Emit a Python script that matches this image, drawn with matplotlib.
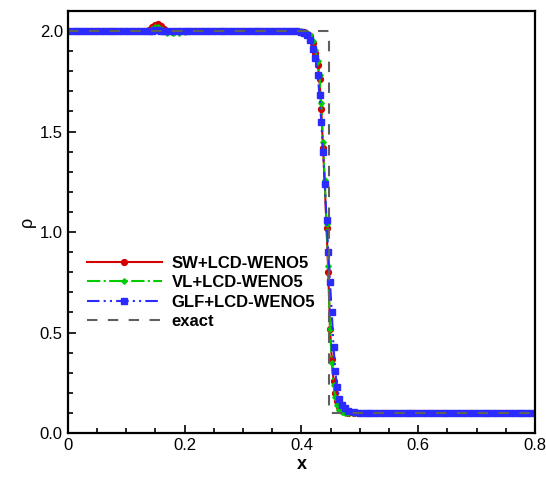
"""
Density profile near the shock: three flux schemes with LCD-WENO5 vs the exact solution.
"""
import matplotlib
matplotlib.use("Agg")
import matplotlib.pyplot as plt
from matplotlib.ticker import MultipleLocator

plt.rcParams['font.family'] = ['Liberation Sans', 'DejaVu Sans']

# grid shared by the three numerical solutions
x_num = [0.00, 0.01, 0.02, 0.03, 0.04, 0.05, 0.06, 0.07, 0.08, 0.09, 0.10, 0.11, 0.12, 0.13,
         0.14, 0.145, 0.15, 0.155, 0.16, 0.165, 0.17,
         0.18, 0.19, 0.20, 0.21, 0.22, 0.23, 0.24, 0.25, 0.26, 0.27, 0.28, 0.29, 0.30,
         0.31, 0.32, 0.33, 0.34, 0.35, 0.36, 0.37, 0.38, 0.39,
         0.400, 0.405, 0.410, 0.415, 0.420, 0.424, 0.428, 0.431, 0.434, 0.437, 0.440,
         0.443, 0.446, 0.449, 0.452, 0.455, 0.458, 0.461, 0.465, 0.470, 0.475, 0.480,
         0.49, 0.50, 0.51, 0.52, 0.53, 0.54, 0.55, 0.56, 0.57, 0.58, 0.59, 0.60, 0.61,
         0.62, 0.63, 0.64, 0.65, 0.66, 0.67, 0.68, 0.69, 0.70, 0.71, 0.72, 0.73, 0.74,
         0.75, 0.76, 0.77, 0.78, 0.79, 0.80]

rho_sw = [2.0, 2.0, 2.0, 2.0, 2.0, 2.0, 2.0, 2.0, 2.0, 2.0, 2.0, 2.0, 2.0, 2.0,
          2.005, 2.018, 2.032, 2.036, 2.026, 2.010, 2.0,
          1.998, 1.999, 2.0, 2.0, 2.0, 2.0, 2.0, 2.0, 2.0, 2.0, 2.0, 2.0, 2.0,
          2.0, 2.0, 2.0, 2.0, 2.0, 2.0, 2.0, 2.0, 2.0,
          1.998, 1.995, 1.988, 1.975, 1.94, 1.89, 1.83, 1.76, 1.61, 1.42, 1.24,
          1.02, 0.80, 0.52, 0.37, 0.26, 0.20, 0.16, 0.13, 0.115, 0.105, 0.101,
          0.1, 0.1, 0.1, 0.1, 0.1, 0.1, 0.1, 0.1, 0.1, 0.1, 0.1, 0.1, 0.1,
          0.1, 0.1, 0.1, 0.1, 0.1, 0.1, 0.1, 0.1, 0.1, 0.1, 0.1, 0.1, 0.1,
          0.1, 0.1, 0.1, 0.1, 0.1, 0.1]

rho_vl = [2.0, 2.0, 2.0, 2.0, 2.0, 2.0, 2.0, 2.0, 2.0, 2.0, 2.0, 2.0, 2.0, 2.0,
          2.002, 2.010, 2.020, 2.022, 2.012, 2.0, 1.992,
          1.989, 1.991, 1.996, 1.999, 2.0, 2.0, 2.0, 2.0, 2.0, 2.0, 2.0, 2.0, 2.0,
          2.0, 2.0, 2.0, 2.0, 2.0, 2.0, 2.0, 2.0, 2.0,
          1.999, 1.997, 1.99, 1.98, 1.95, 1.905, 1.85, 1.78, 1.64, 1.45, 1.26,
          1.04, 0.83, 0.52, 0.35, 0.24, 0.18, 0.14, 0.115, 0.104, 0.1, 0.1,
          0.1, 0.1, 0.1, 0.1, 0.1, 0.1, 0.1, 0.1, 0.1, 0.1, 0.1, 0.1, 0.1,
          0.1, 0.1, 0.1, 0.1, 0.1, 0.1, 0.1, 0.1, 0.1, 0.1, 0.1, 0.1, 0.1,
          0.1, 0.1, 0.1, 0.1, 0.1, 0.1]

rho_glf = [2.0, 2.0, 2.0, 2.0, 2.0, 2.0, 2.0, 2.0, 2.0, 2.0, 2.0, 2.0, 2.0, 2.0,
           2.0, 2.002, 2.004, 2.005, 2.003, 2.001, 2.0,
           2.0, 2.0, 2.0, 2.0, 2.0, 2.0, 2.0, 2.0, 2.0, 2.0, 2.0, 2.0, 2.0,
           2.0, 2.0, 2.0, 2.0, 2.0, 2.0, 2.0, 2.0, 2.0,
           1.997, 1.99, 1.98, 1.955, 1.91, 1.865, 1.78, 1.68, 1.55, 1.40, 1.24,
           1.06, 0.90, 0.75, 0.60, 0.43, 0.31, 0.23, 0.17, 0.14, 0.122, 0.112,
           0.103, 0.1, 0.1, 0.1, 0.1, 0.1, 0.1, 0.1, 0.1, 0.1, 0.1, 0.1, 0.1,
           0.1, 0.1, 0.1, 0.1, 0.1, 0.1, 0.1, 0.1, 0.1, 0.1, 0.1, 0.1, 0.1,
           0.1, 0.1, 0.1, 0.1, 0.1, 0.1]

x_exact = [0.0, 0.447, 0.447, 0.8]
rho_exact = [2.0, 2.0, 0.1, 0.1]

x_ticks = [0.0, 0.2, 0.4, 0.6, 0.8]
x_ticklabels = ['0', '0.2', '0.4', '0.6', '0.8']
y_ticks = [0.0, 0.5, 1.0, 1.5, 2.0]
y_ticklabels = ['0.0', '0.5', '1.0', '1.5', '2.0']

fig = plt.figure(figsize=(5.46, 4.79), dpi=100)
ax = fig.add_axes([0.124, 0.096, 0.856, 0.881])

ax.plot(x_num, rho_sw, color='#d40000', lw=1.5, ls='-', marker='o', ms=4.2,
        label='SW+LCD-WENO5')
ax.plot(x_num, rho_vl, color='#00cc00', lw=1.5, ls='-.', marker='D', ms=2.8,
        label='VL+LCD-WENO5')
ax.plot(x_num, rho_glf, color='#2b2bff', lw=1.5, ls=(0, (6, 2, 1, 2, 1, 2)),
        marker='s', ms=4.0, label='GLF+LCD-WENO5')
ax.plot(x_exact, rho_exact, color='#5f5f5f', lw=1.5, ls=(0, (5, 5)),
        label='exact')

ax.set_xlim(0, 0.8)
ax.set_ylim(0, 2.1)
ax.set_xticks(x_ticks)
ax.set_xticklabels(x_ticklabels)
ax.set_yticks(y_ticks)
ax.set_yticklabels(y_ticklabels)
ax.xaxis.set_minor_locator(MultipleLocator(0.05))
ax.yaxis.set_minor_locator(MultipleLocator(0.1))
ax.tick_params(which='both', direction='in', top=False, right=False,
               labelsize=12, width=1.2)
ax.tick_params(which='major', length=6)
ax.tick_params(which='minor', length=3.5)
for s in ax.spines.values():
    s.set_linewidth(1.6)

ax.set_xlabel('x', fontsize=13, fontweight='bold', labelpad=2)
ax.set_ylabel('ρ', fontsize=13, labelpad=3)

ax.legend(loc='upper left', bbox_to_anchor=(0.042, 0.42), frameon=False,
          borderpad=0, borderaxespad=0, handlelength=4.45, handletextpad=0.6,
          labelspacing=0.27, numpoints=1, prop={'size': 12, 'weight': 'bold'})

fig.savefig('out.png', dpi=100)
